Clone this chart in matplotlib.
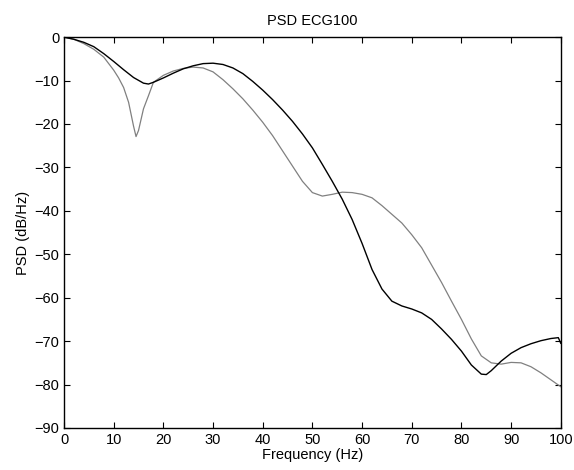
import matplotlib.pyplot as plt

plt.rcParams['font.family'] = ['Liberation Sans', 'DejaVu Sans']
plt.rcParams['font.size'] = 10.5

# black curve (frequency in Hz, PSD in dB/Hz)
freq_black = [0, 2, 4, 6, 8, 10, 12, 14, 16, 17, 18, 20, 22, 24, 26, 28, 30,
              32, 34, 36, 38, 40, 42, 44, 46, 48, 50, 52, 54, 56, 58, 60, 62,
              64, 66, 68, 70, 72, 74, 76, 78, 80, 82, 84, 85, 86, 88, 90, 92,
              94, 96, 98, 99.5, 100]
psd_black = [0, -0.5, -1.2, -2.2, -3.8, -5.6, -7.5, -9.3, -10.6, -10.8, -10.4,
             -9.4, -8.3, -7.3, -6.6, -6.1, -6.0, -6.3, -7.1, -8.4, -10.2,
             -12.2, -14.4, -16.8, -19.4, -22.3, -25.5, -29.3, -33.2, -37.3,
             -42.0, -47.5, -53.5, -58.0, -60.8, -61.9, -62.6, -63.5, -65.0,
             -67.2, -69.6, -72.3, -75.5, -77.6, -77.7, -76.8, -74.6, -72.8,
             -71.5, -70.6, -69.9, -69.4, -69.2, -70.5]

# gray curve
freq_gray = [0, 2, 4, 6, 8, 10, 11, 12, 13, 14, 14.5, 15, 16, 17, 18, 20, 22,
             24, 26, 28, 30, 32, 34, 36, 38, 40, 42, 44, 46, 48, 50, 52, 54,
             56, 58, 60, 62, 64, 66, 68, 70, 72, 74, 76, 78, 80, 82, 84, 86,
             88, 90, 92, 94, 96, 98, 100]
psd_gray = [0, -0.5, -1.5, -2.8, -4.6, -7.6, -9.4, -11.6, -15.0, -20.5, -22.9,
            -21.5, -16.5, -13.5, -10.4, -8.8, -7.8, -7.2, -6.9, -7.1, -8.0,
            -9.8, -11.9, -14.2, -16.8, -19.6, -22.7, -26.2, -29.7, -33.2,
            -35.8, -36.6, -36.2, -35.7, -35.8, -36.2, -37.0, -38.8, -40.8,
            -42.8, -45.5, -48.5, -52.5, -56.5, -60.8, -65.0, -69.5, -73.4,
            -75.0, -75.3, -74.9, -75.0, -75.9, -77.3, -78.9, -80.5]

fig = plt.figure(figsize=(5.74, 4.7), dpi=100)
ax = fig.add_axes([0.1115, 0.0894, 0.8655, 0.8316])

ax.plot(freq_gray, psd_gray, color='#808080', linewidth=0.9)
ax.plot(freq_black, psd_black, color='black', linewidth=1.0)

ax.set_xlim(0, 100)
ax.set_ylim(-90, 0)
ax.set_xticks(range(0, 101, 10))
ax.set_yticks(range(-90, 1, 10))
ax.tick_params(direction='in', top=True, right=True, length=4, width=0.8)
for s in ax.spines.values():
    s.set_linewidth(1.0)

ax.set_title('PSD ECG100', fontsize=10.5, pad=9)
ax.set_xlabel('Frequency (Hz)', labelpad=1)
ax.set_ylabel('PSD (dB/Hz)', labelpad=3)

fig.savefig('out.png', dpi=100)
